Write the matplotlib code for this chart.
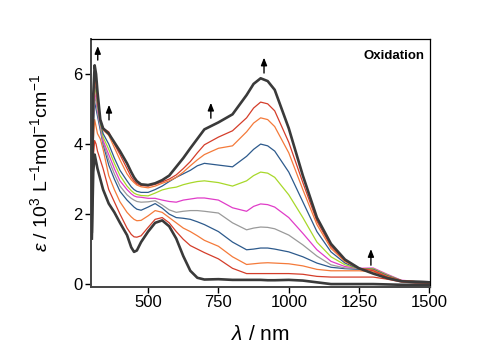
import numpy as np
import matplotlib
matplotlib.use("Agg")
import matplotlib.pyplot as plt

plt.rcParams["font.family"] = ["Liberation Sans", "DejaVu Sans"]
plt.rcParams["mathtext.fontset"] = "custom"
plt.rcParams["mathtext.rm"] = "Liberation Sans"
plt.rcParams["mathtext.it"] = "Liberation Sans:italic"

# wavelength grid (nm)
wl = [300, 305, 310, 315, 320, 330, 340, 360, 380, 400, 425, 440, 450, 460, 475, 500,
      525, 550, 575, 600, 625, 650, 675, 700, 750, 800, 850, 875, 900, 925,
      950, 1000, 1050, 1100, 1150, 1200, 1250, 1300, 1350, 1400, 1450, 1500]

# epsilon / 1e3 L mol-1 cm-1, from start (s0) to fully oxidised (s10)
s0 = [1.3, 3.2, 3.7, 3.5, 3.3, 3.0, 2.7, 2.3, 2.05, 1.75, 1.4, 1.05, 0.92, 0.96, 1.2, 1.5,
      1.75, 1.82, 1.65, 1.3, 0.8, 0.38, 0.18, 0.13, 0.14, 0.12, 0.12, 0.12, 0.12, 0.11,
      0.11, 0.12, 0.1, 0.05, 0.0, 0.0, 0.0, 0.0, -0.01, -0.02, -0.02, -0.02]
s1 = [1.5, 3.6, 4.1, 4.0, 3.8, 3.55, 3.3, 2.7, 2.35, 2.0, 1.6, 1.42, 1.35, 1.34, 1.38, 1.62,
      1.85, 1.9, 1.75, 1.5, 1.28, 1.1, 1.0, 0.9, 0.72, 0.45, 0.3, 0.3, 0.3, 0.3,
      0.3, 0.3, 0.28, 0.22, 0.2, 0.2, 0.2, 0.2, 0.14, 0.06, 0.03, 0.02]
s2 = [1.6, 4.1, 4.7, 4.5, 4.3, 4.15, 3.85, 3.1, 2.7, 2.35, 2.05, 1.92, 1.85, 1.81, 1.82, 1.95,
      2.1, 2.05, 1.9, 1.75, 1.6, 1.5, 1.38, 1.25, 1.08, 0.78, 0.56, 0.58, 0.6, 0.61,
      0.6, 0.58, 0.52, 0.42, 0.38, 0.38, 0.38, 0.35, 0.22, 0.08, 0.05, 0.04]
s3 = [1.7, 4.5, 5.2, 5.0, 4.8, 4.4, 4.0, 3.4, 3.0, 2.65, 2.4, 2.28, 2.2, 2.14, 2.11, 2.2,
      2.3, 2.17, 2.0, 1.9, 1.88, 1.85, 1.78, 1.7, 1.5, 1.2, 0.98, 1.0, 1.03, 1.03,
      1.0, 0.92, 0.78, 0.6, 0.48, 0.44, 0.42, 0.42, 0.24, 0.1, 0.07, 0.06]
s4 = [1.7, 4.6, 5.35, 5.2, 4.9, 4.5, 4.05, 3.55, 3.15, 2.8, 2.55, 2.45, 2.4, 2.36, 2.34, 2.35,
      2.38, 2.26, 2.12, 2.05, 2.08, 2.1, 2.1, 2.08, 2.03, 1.75, 1.55, 1.6, 1.63, 1.62,
      1.58, 1.4, 1.12, 0.8, 0.55, 0.46, 0.44, 0.44, 0.26, 0.1, 0.08, 0.07]
s5 = [1.7, 4.7, 5.5, 5.3, 5.0, 4.55, 4.1, 3.7, 3.3, 2.95, 2.7, 2.58, 2.52, 2.49, 2.48, 2.45,
      2.45, 2.4, 2.36, 2.34, 2.4, 2.43, 2.46, 2.46, 2.4, 2.18, 2.08, 2.22, 2.29, 2.27,
      2.2, 1.9, 1.45, 0.98, 0.65, 0.5, 0.45, 0.46, 0.28, 0.11, 0.08, 0.07]
s6 = [1.7, 4.8, 5.65, 5.45, 5.1, 4.6, 4.2, 3.85, 3.45, 3.1, 2.8, 2.67, 2.6, 2.56, 2.53, 2.52,
      2.6, 2.69, 2.74, 2.77, 2.84, 2.89, 2.93, 2.95, 2.9, 2.8, 2.95, 3.1, 3.2, 3.17,
      3.05, 2.55, 1.9, 1.2, 0.78, 0.55, 0.44, 0.44, 0.26, 0.1, 0.08, 0.07]
s7 = [1.7, 4.9, 5.75, 5.55, 5.2, 4.65, 4.3, 4.0, 3.6, 3.25, 2.95, 2.78, 2.7, 2.65, 2.62, 2.62,
      2.7, 2.8, 2.93, 3.05, 3.15, 3.25, 3.38, 3.45, 3.4, 3.35, 3.65, 3.85, 4.0, 3.95,
      3.8, 3.2, 2.35, 1.5, 0.92, 0.6, 0.44, 0.42, 0.24, 0.1, 0.08, 0.07]
s8 = [1.6, 5.0, 5.85, 5.65, 5.25, 4.7, 4.4, 4.25, 3.9, 3.55, 3.15, 2.98, 2.9, 2.83, 2.78, 2.75,
      2.8, 2.88, 2.95, 3.05, 3.2, 3.38, 3.55, 3.7, 3.88, 3.95, 4.35, 4.6, 4.75, 4.7,
      4.5, 3.75, 2.7, 1.7, 1.02, 0.64, 0.45, 0.4, 0.22, 0.1, 0.07, 0.06]
s9 = [1.6, 5.1, 5.95, 5.75, 5.3, 4.7, 4.45, 4.35, 4.0, 3.7, 3.3, 3.06, 2.95, 2.87, 2.82, 2.8,
      2.85, 2.92, 3.0, 3.12, 3.3, 3.5, 3.75, 3.98, 4.2, 4.38, 4.75, 5.03, 5.2, 5.15,
      4.95, 4.05, 2.9, 1.8, 1.08, 0.67, 0.45, 0.38, 0.2, 0.1, 0.07, 0.06]
s10 = [1.5, 5.4, 6.25, 6.0, 5.5, 4.7, 4.45, 4.3, 4.05, 3.8, 3.45, 3.2, 3.05, 2.94, 2.85, 2.83,
       2.88, 2.97, 3.1, 3.35, 3.6, 3.88, 4.15, 4.42, 4.62, 4.85, 5.4, 5.72, 5.88, 5.8,
       5.55, 4.45, 3.1, 1.9, 1.15, 0.7, 0.45, 0.3, 0.17, 0.08, 0.06, 0.05]

series = [s0, s1, s2, s3, s4, s5, s6, s7, s8, s9, s10]
colors = ["#3a3a3a", "#d43d2a", "#f47a3a", "#2d5a8c", "#9a9a9a", "#e03cc8",
          "#a8d82a", "#2d5a8c", "#f47a3a", "#d43d2a", "#3a3a3a"]

# arrow positions (nm, start, end)
arrow_x = [321, 361, 723, 912, 1292]
arrow_y0 = [6.40, 4.69, 4.74, 6.03, 0.54]
arrow_y1 = [6.80, 5.12, 5.18, 6.47, 1.00]

fig = plt.figure(figsize=(5.0, 3.49), dpi=100)
ax = fig.add_axes([0.182, 0.178, 0.678, 0.71])

for i, (s, c) in enumerate(zip(series, colors)):
    thick = i in (0, len(series) - 1)
    ax.plot(wl, s, color=c, lw=1.9 if thick else 0.9,
            zorder=3 if thick else 2, solid_joinstyle="round")

for x, y0, y1 in zip(arrow_x, arrow_y0, arrow_y1):
    ax.annotate("", xy=(x, y1), xytext=(x, y0),
                arrowprops=dict(arrowstyle="-|>,head_length=0.45,head_width=0.18",
                                color="black", lw=1.0, shrinkA=0, shrinkB=0))

ax.text(0.985, 0.955, "Oxidation", transform=ax.transAxes, ha="right", va="top",
        fontsize=9.5, fontweight="bold")

ax.set_xlim(297, 1502)
ax.set_ylim(-0.08, 7.0)
ax.set_xticks([500, 750, 1000, 1250, 1500])
ax.set_yticks([0, 2, 4, 6])
ax.tick_params(direction="out", length=4, width=1.0, labelsize=12, pad=2,
               top=False, right=False)

for side in ("left", "bottom"):
    ax.spines[side].set_linewidth(1.4)
    ax.spines[side].set_color("#444444")
for side in ("top", "right"):
    ax.spines[side].set_linewidth(0.9)

ax.set_xlabel(r"$\lambda$ / nm", fontsize=15, labelpad=11)
ax.set_ylabel(r"$\varepsilon$ / 10$^3$ L$^{-1}$mol$^{-1}$cm$^{-1}$", fontsize=14, labelpad=16)

fig.savefig("out.png", dpi=100)
